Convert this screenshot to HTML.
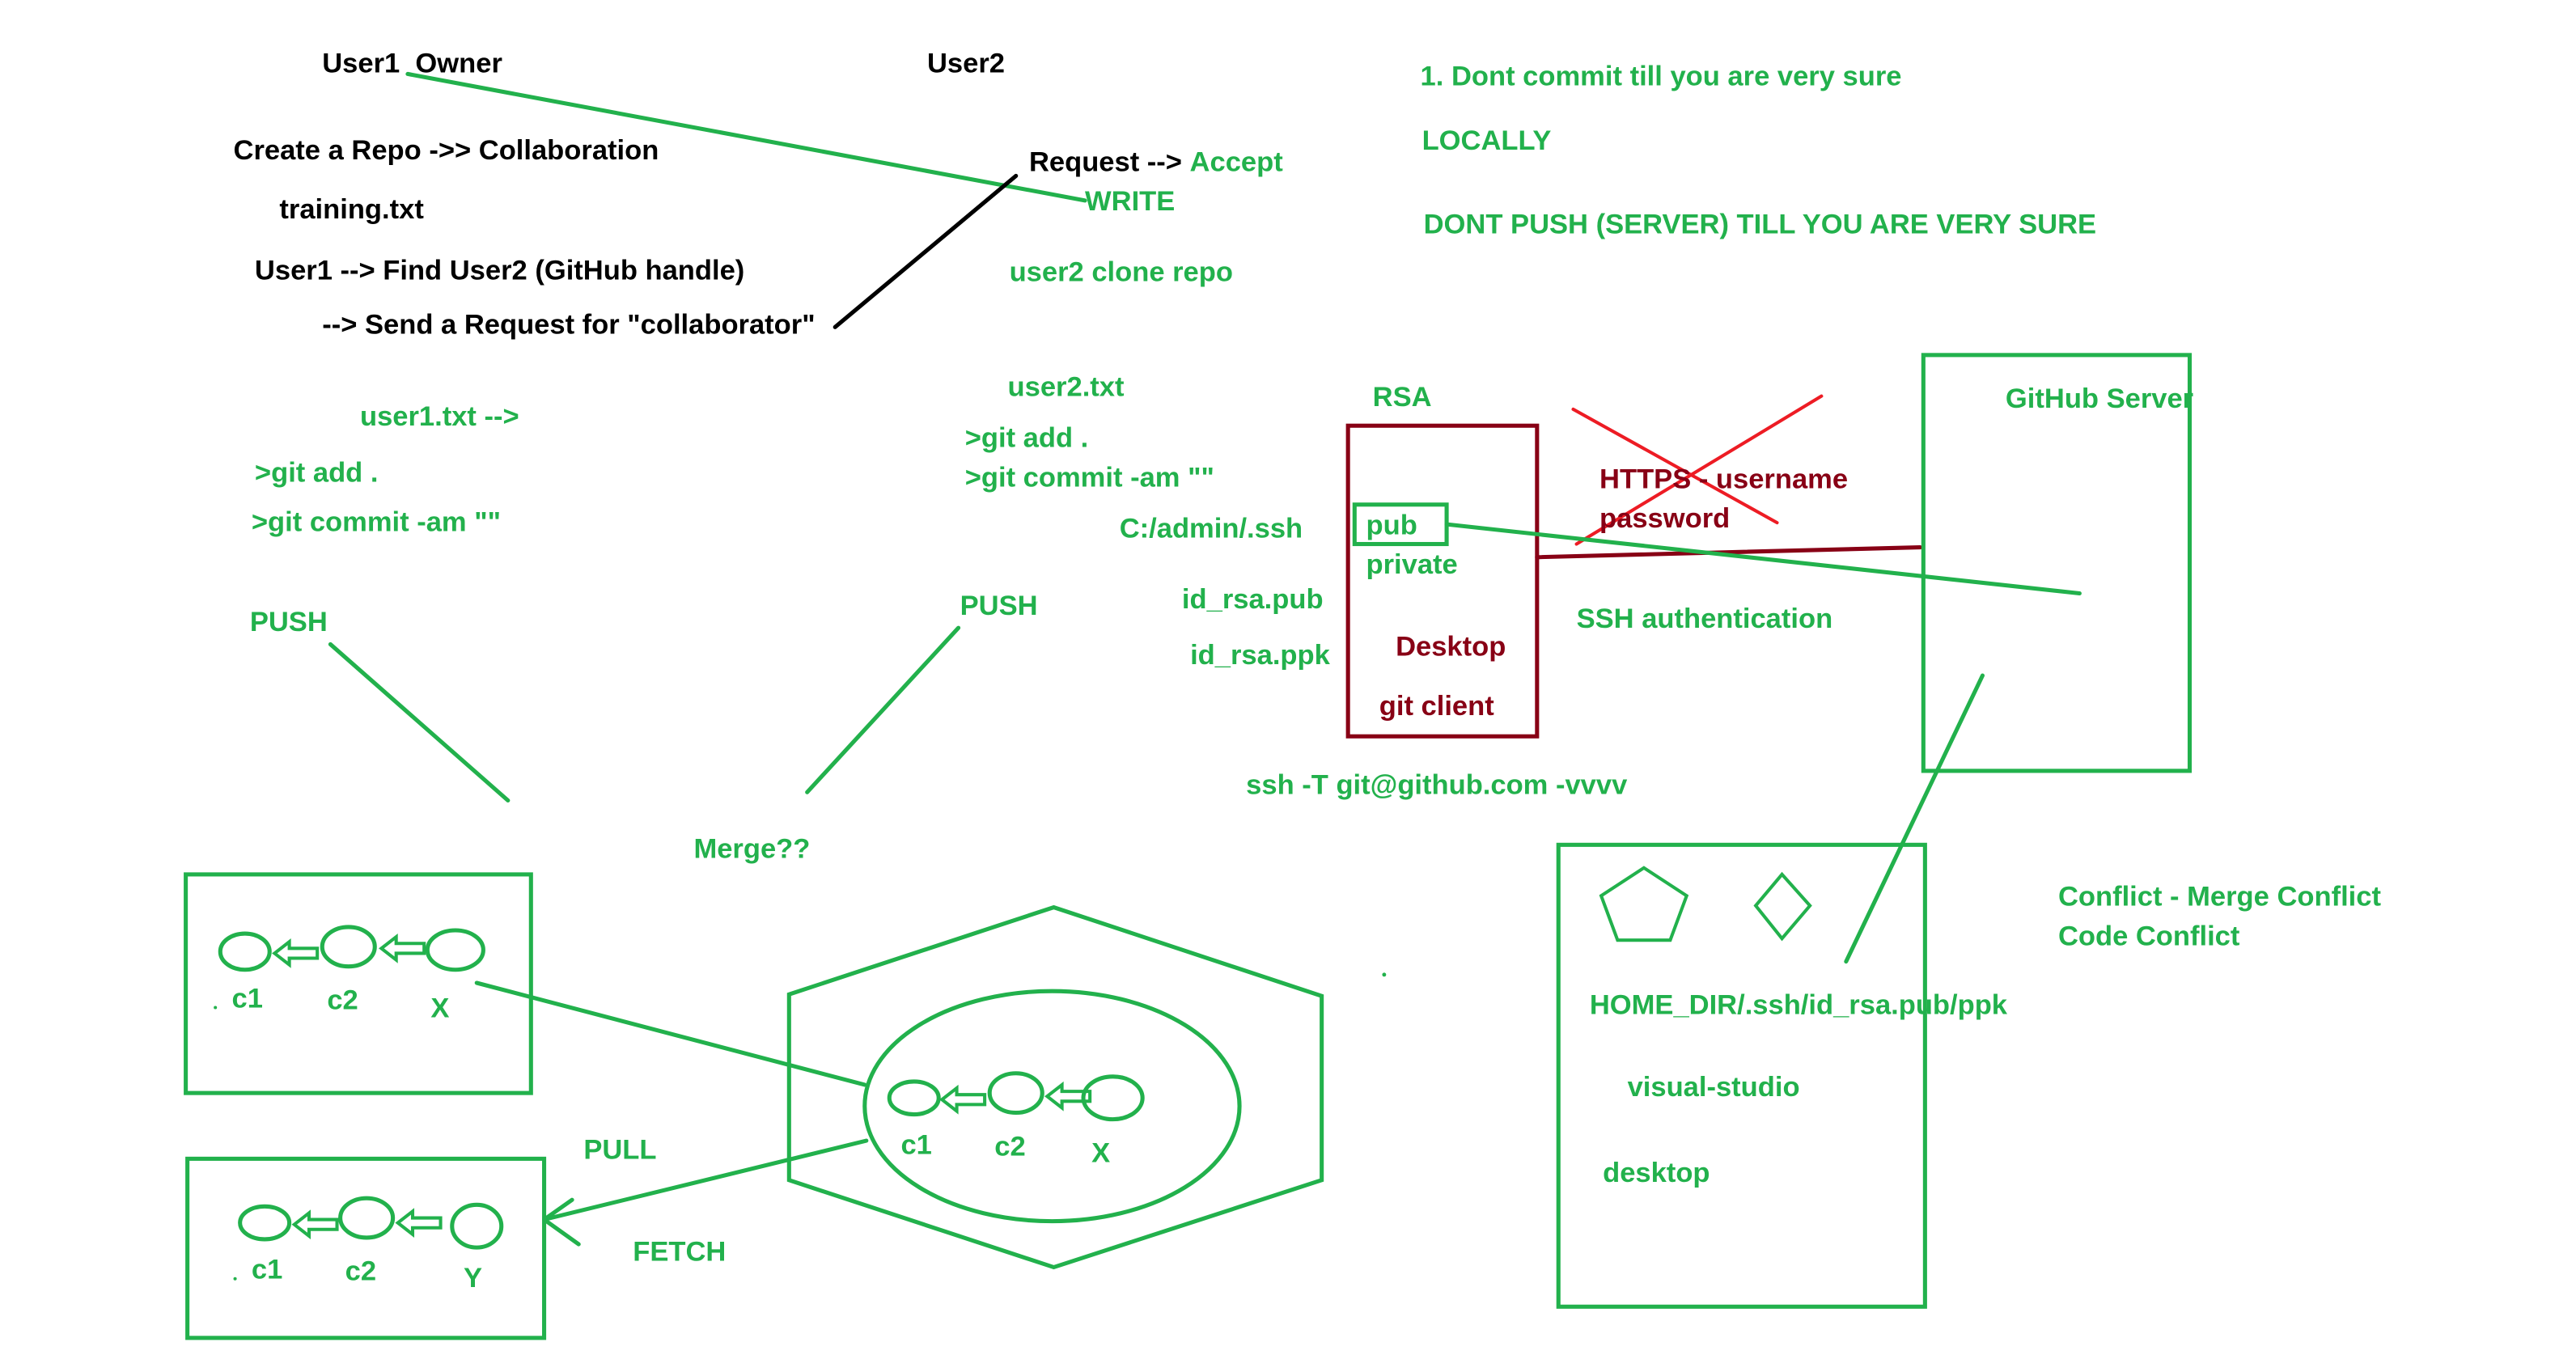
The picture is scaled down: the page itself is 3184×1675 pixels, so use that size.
<!DOCTYPE html>
<html><head><meta charset="utf-8"><style>
html,body{margin:0;padding:0;background:#fff;}
svg{display:block;}
text{font-family:"Liberation Sans",sans-serif;font-weight:bold;font-size:17px;}
.g{fill:#22b14c;}.k{fill:#000;}.r{fill:#880015;}
</style></head><body>
<svg width="3184" height="1675" viewBox="0 0 1567 824.4" preserveAspectRatio="none" xmlns="http://www.w3.org/2000/svg">
<defs>
<g id="ha"><polygon points="0,0 9,-7 9,-3 26,-3 26,3 9,3 9,7" fill="none" stroke="#22b14c" stroke-width="2"/></g>
</defs>
<g stroke-linecap="round" fill="none" stroke-width="2.5">
<line x1="248" y1="45" x2="660" y2="122" stroke="#22b14c"/>
<line x1="618" y1="107" x2="508" y2="199" stroke="#000"/>
<line x1="201" y1="392" x2="309" y2="487" stroke="#22b14c"/>
<line x1="583" y1="382" x2="491" y2="482" stroke="#22b14c"/>
<rect x="820" y="259" width="115" height="189" stroke="#880015"/>
<rect x="824" y="307" width="56" height="24" stroke="#22b14c"/>
<line x1="957" y1="249" x2="1081" y2="318" stroke="#ed1c24" stroke-width="2"/>
<line x1="959" y1="331" x2="1108" y2="241" stroke="#ed1c24" stroke-width="2"/>
<line x1="935" y1="339" x2="1168" y2="333" stroke="#880015"/>
<line x1="880" y1="319" x2="1265" y2="361" stroke="#22b14c"/>
<rect x="1170" y="216" width="162" height="253" stroke="#22b14c"/>
<rect x="948" y="514" width="223" height="281" stroke="#22b14c"/>
<polygon points="1000,528 1026,545 1016,572 984,572 974,545" stroke="#22b14c" stroke-width="2"/>
<polygon points="1084,532 1101,551 1084,571 1068,551" stroke="#22b14c" stroke-width="2"/>
<line x1="1206" y1="411" x2="1123" y2="585" stroke="#22b14c"/>
<rect x="113" y="532" width="210" height="133" stroke="#22b14c"/>
<rect x="114" y="705" width="217" height="109" stroke="#22b14c"/>
<polygon points="641,552 804,606 804,718 641,771 480,718 480,605" stroke="#22b14c"/>
<ellipse cx="640" cy="673" rx="114" ry="70" stroke="#22b14c"/>
<ellipse cx="149" cy="579" rx="15" ry="11" stroke="#22b14c"/>
<ellipse cx="212" cy="576" rx="16" ry="12" stroke="#22b14c"/>
<ellipse cx="277" cy="578" rx="17" ry="12" stroke="#22b14c"/>
<ellipse cx="161" cy="744" rx="15" ry="10" stroke="#22b14c"/>
<ellipse cx="223" cy="741" rx="16" ry="12" stroke="#22b14c"/>
<ellipse cx="290" cy="746" rx="15" ry="13" stroke="#22b14c"/>
<ellipse cx="556" cy="668" rx="15" ry="10" stroke="#22b14c"/>
<ellipse cx="618" cy="665" rx="16" ry="12" stroke="#22b14c"/>
<ellipse cx="677" cy="668" rx="18" ry="13" stroke="#22b14c"/>
<line x1="290" y1="598" x2="526" y2="660" stroke="#22b14c"/>
<line x1="527" y1="694" x2="331" y2="742" stroke="#22b14c"/>
<line x1="331" y1="742" x2="348" y2="730" stroke="#22b14c"/>
<line x1="331" y1="742" x2="352" y2="757" stroke="#22b14c"/>
</g>
<use href="#ha" x="167" y="580"/><use href="#ha" x="232" y="577"/>
<use href="#ha" x="179" y="745"/><use href="#ha" x="242" y="744"/>
<use href="#ha" x="573" y="669"/><use href="#ha" x="637" y="667"/>
<circle cx="131" cy="613" r="1" fill="#22b14c"/><circle cx="842" cy="593" r="1.2" fill="#22b14c"/><circle cx="143" cy="778" r="1" fill="#22b14c"/>
<text class="k" x="196" y="44" xml:space="preserve">User1  Owner</text>
<text class="k" x="564" y="44">User2</text>
<text class="k" x="142" y="97">Create a Repo -&gt;&gt; Collaboration</text>
<text class="k" x="170" y="133">training.txt</text>
<text class="k" x="155" y="170">User1 --&gt; Find User2 (GitHub handle)</text>
<text class="k" x="196" y="203">--&gt; Send a Request for "collaborator"</text>
<text class="k" x="626" y="104">Request --&gt; <tspan class="g">Accept</tspan></text>
<text class="g" x="660" y="128">WRITE</text>
<text class="g" x="614" y="171">user2 clone repo</text>
<text class="g" x="864" y="52">1. Dont commit till you are very sure</text>
<text class="g" x="865" y="91">LOCALLY</text>
<text class="g" x="866" y="142">DONT PUSH (SERVER) TILL YOU ARE VERY SURE</text>
<text class="g" x="219" y="259">user1.txt --&gt;</text>
<text class="g" x="155" y="293">&gt;git add .</text>
<text class="g" x="153" y="323">&gt;git commit -am ""</text>
<text class="g" x="613" y="241">user2.txt</text>
<text class="g" x="587" y="272">&gt;git add .</text>
<text class="g" x="587" y="296">&gt;git commit -am ""</text>
<text class="g" x="681" y="327">C:/admin/.ssh</text>
<text class="g" x="719" y="370">id_rsa.pub</text>
<text class="g" x="724" y="404">id_rsa.ppk</text>
<text class="g" x="152" y="384">PUSH</text>
<text class="g" x="584" y="374">PUSH</text>
<text class="g" x="835" y="247">RSA</text>
<text class="g" x="831" y="325">pub</text>
<text class="g" x="831" y="349">private</text>
<text class="r" x="849" y="399">Desktop</text>
<text class="r" x="839" y="435">git client</text>
<text class="r" x="973" y="297">HTTPS - username</text>
<text class="r" x="973" y="321">password</text>
<text class="g" x="959" y="382">SSH authentication</text>
<text class="g" x="1220" y="248">GitHub Server</text>
<text class="g" x="758" y="483">ssh -T git@github.com -vvvv</text>
<text class="g" x="967" y="617">HOME_DIR/.ssh/id_rsa.pub/ppk</text>
<text class="g" x="990" y="667">visual-studio</text>
<text class="g" x="975" y="719">desktop</text>
<text class="g" x="1252" y="551">Conflict - Merge Conflict</text>
<text class="g" x="1252" y="575">Code Conflict</text>
<text class="g" x="422" y="522">Merge??</text>
<text class="g" x="141" y="613">c1</text><text class="g" x="199" y="614">c2</text><text class="g" x="262" y="619">X</text>
<text class="g" x="153" y="778">c1</text><text class="g" x="210" y="779">c2</text><text class="g" x="282" y="783">Y</text>
<text class="g" x="548" y="702">c1</text><text class="g" x="605" y="703">c2</text><text class="g" x="664" y="707">X</text>
<text class="g" x="355" y="705">PULL</text>
<text class="g" x="385" y="767">FETCH</text>
</svg>
</body></html>
